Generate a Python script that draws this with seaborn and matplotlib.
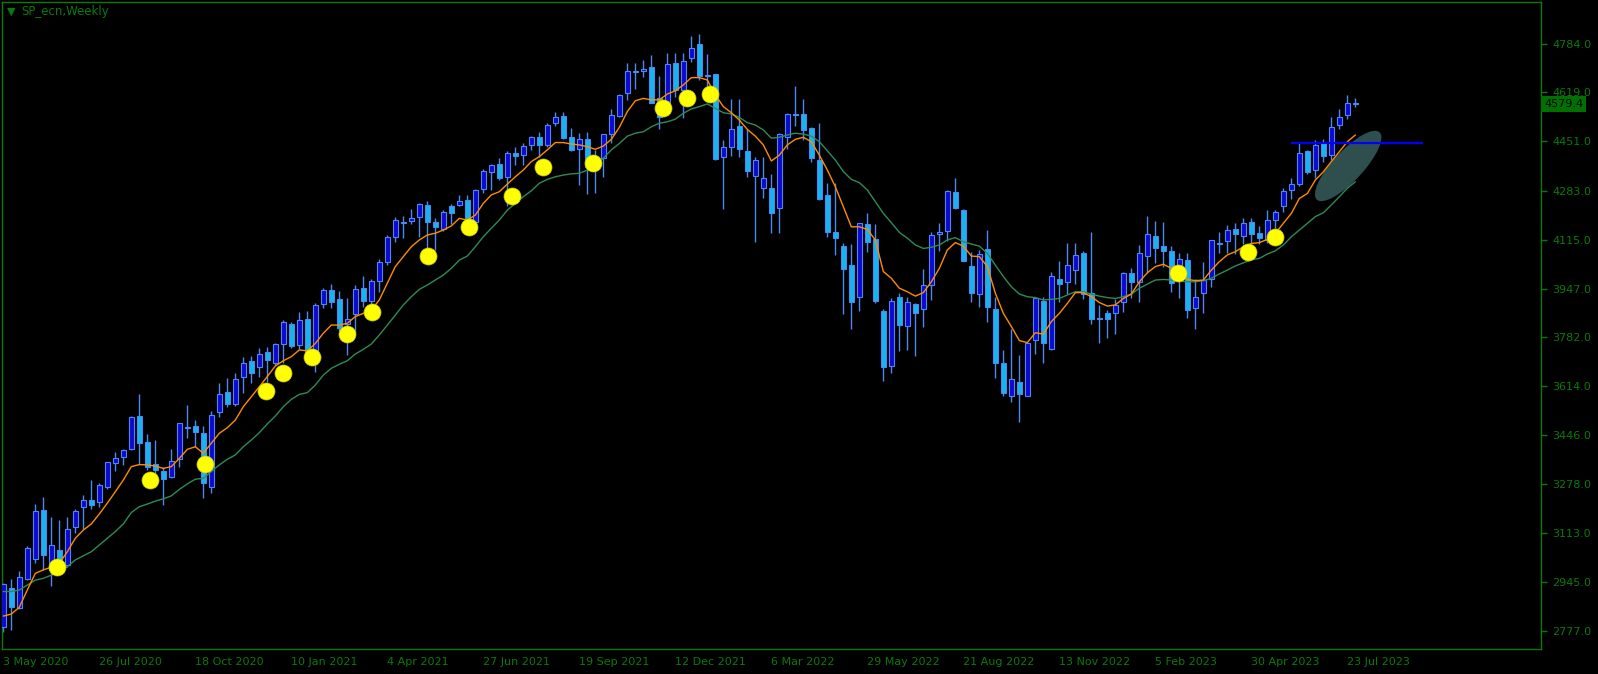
import numpy as np
import pandas as pd
import matplotlib
matplotlib.use("Agg")
import matplotlib.pyplot as plt
import matplotlib.transforms as mtransforms
from matplotlib.patches import Ellipse
import seaborn as sns

# weekly candles, 3 May 2020 .. 30 Jul 2023
opens = [2792, 2923, 2856, 2954, 3024, 3190, 2986, 3053, 3002, 3131,
         3200, 3224, 3217, 3270, 3350, 3371, 3398, 3511, 3422, 3347,
         3323, 3305, 3364, 3471, 3479, 3453, 3268, 3527, 3593, 3553,
         3647, 3699, 3681, 3730, 3692, 3760, 3827, 3755, 3844, 3732,
         3894, 3943, 3912, 3825, 3860, 3949, 3905, 3974, 4040, 4124,
         4174, 4178, 4191, 4233, 4174, 4150, 4229, 4232, 4249, 4176,
         4287, 4347, 4374, 4328, 4410, 4403, 4437, 4465, 4437, 4513,
         4537, 4465, 4424, 4458, 4360, 4393, 4475, 4539, 4615, 4690,
         4691, 4704, 4598, 4587, 4718, 4627, 4735, 4783, 4678, 4680,
         4396, 4433, 4504, 4418, 4334, 4291, 4292, 4222, 4465, 4545,
         4543, 4496, 4387, 4268, 4140, 4092, 4027, 3918, 4169, 4116,
         3871, 3684, 3920, 3821, 3895, 3877, 3959, 4133, 4146, 4277,
         4215, 4024, 3928, 4082, 3877, 3692, 3582, 3628, 3582, 3771,
         3906, 3742, 3980, 3969, 4013, 4069, 3934, 3847, 3863, 3865,
         3901, 4000, 3971, 4060, 4127, 4094, 4076, 3977, 4046, 3883,
         3934, 3979, 4101, 4112, 4150, 4129, 4174, 4137, 4114, 4182,
         4230, 4285, 4305, 4418, 4353, 4450, 4405, 4507, 4541, 4583]
highs = [2940, 2954, 2981, 3068, 3211, 3235, 3167, 3157, 3167, 3193,
         3241, 3292, 3282, 3355, 3388, 3398, 3512, 3587, 3451, 3430,
         3337, 3398, 3489, 3549, 3498, 3478, 3528, 3625, 3641, 3658,
         3715, 3717, 3743, 3749, 3763, 3840, 3833, 3868, 3871, 3897,
         3949, 3963, 3939, 3916, 3960, 3991, 3980, 4048, 4131, 4191,
         4196, 4220, 4239, 4247, 4188, 4216, 4237, 4267, 4268, 4288,
         4357, 4374, 4394, 4418, 4431, 4444, 4471, 4482, 4513, 4552,
         4552, 4496, 4481, 4482, 4420, 4478, 4561, 4613, 4718, 4718,
         4729, 4746, 4675, 4752, 4752, 4752, 4811, 4818, 4750, 4680,
         4456, 4596, 4596, 4492, 4398, 4399, 4340, 4479, 4547, 4640,
         4596, 4501, 4513, 4308, 4308, 4103, 4101, 4173, 4207, 4169,
         3877, 3914, 3931, 3920, 3900, 4015, 4142, 4171, 4285, 4325,
         4219, 4072, 4080, 4147, 3920, 3738, 3810, 3721, 3766, 3920,
         3918, 4006, 4043, 4105, 4105, 4075, 4141, 3892, 3875, 3911,
         4004, 4017, 4097, 4196, 4179, 4174, 4093, 4068, 4068, 3979,
         4040, 4113, 4140, 4165, 4173, 4188, 4188, 4162, 4216, 4216,
         4291, 4325, 4449, 4422, 4456, 4458, 4536, 4563, 4610, 4598]
lows = [2775, 2780, 2853, 2951, 3008, 2986, 2932, 2986, 2997, 3113,
        3127, 3195, 3200, 3261, 3325, 3346, 3396, 3348, 3327, 3270,
        3209, 3299, 3339, 3437, 3407, 3233, 3250, 3510, 3544, 3547,
        3592, 3626, 3644, 3629, 3686, 3692, 3743, 3740, 3726, 3664,
        3883, 3883, 3804, 3721, 3797, 3886, 3888, 3937, 4028, 4108,
        4120, 4169, 4125, 4085, 4080, 4146, 4169, 4230, 4160, 4171,
        4273, 4285, 4319, 4230, 4370, 4370, 4422, 4399, 4433, 4504,
        4460, 4417, 4302, 4270, 4275, 4328, 4444, 4533, 4593, 4629,
        4672, 4581, 4492, 4581, 4604, 4530, 4724, 4661, 4615, 4387,
        4220, 4401, 4399, 4328, 4106, 4256, 4139, 4137, 4424, 4504,
        4456, 4382, 4251, 4123, 4063, 3860, 3808, 3872, 4074, 3897,
        3633, 3658, 3736, 3738, 3717, 3818, 3909, 4077, 4112, 4219,
        4042, 3903, 3884, 3835, 3643, 3580, 3559, 3490, 3582, 3725,
        3694, 3737, 3903, 3929, 3963, 3911, 3826, 3763, 3780, 3791,
        3869, 3914, 3903, 4000, 4034, 4023, 3937, 3914, 3846, 3808,
        3865, 3954, 4068, 4071, 4066, 4100, 4100, 4100, 4102, 4154,
        4211, 4253, 4299, 4338, 4325, 4382, 4388, 4495, 4526, 4570]
closes = [2938, 2858, 2960, 3060, 3186, 3038, 3070, 2989, 3125, 3186,
          3224, 3209, 3275, 3354, 3367, 3395, 3508, 3419, 3337, 3327,
          3296, 3357, 3487, 3473, 3459, 3284, 3514, 3587, 3554, 3637,
          3692, 3660, 3723, 3702, 3758, 3832, 3751, 3840, 3732, 3892,
          3943, 3901, 3812, 3844, 3946, 3906, 3974, 4039, 4123, 4181,
          4171, 4188, 4236, 4176, 4159, 4208, 4207, 4246, 4176, 4284,
          4349, 4370, 4327, 4410, 4402, 4436, 4467, 4440, 4508, 4535,
          4464, 4420, 4458, 4365, 4391, 4476, 4540, 4610, 4693, 4688,
          4700, 4583, 4533, 4714, 4627, 4727, 4769, 4676, 4673, 4391,
          4431, 4492, 4426, 4351, 4387, 4325, 4205, 4475, 4543, 4541,
          4490, 4393, 4254, 4142, 4120, 4016, 3903, 4171, 4108, 3906,
          3679, 3906, 3823, 3901, 3865, 3959, 4130, 4141, 4280, 4224,
          4043, 3932, 4065, 3884, 3694, 3592, 3637, 3588, 3761, 3916,
          3763, 3991, 3963, 4027, 4061, 3928, 3843, 3843, 3843, 3892,
          4000, 3971, 4068, 4134, 4088, 4077, 3968, 4048, 3875, 3918,
          3977, 4113, 4103, 4148, 4133, 4171, 4133, 4120, 4182, 4211,
          4283, 4304, 4413, 4348, 4439, 4402, 4501, 4535, 4581, 4579.4]

ma_fast = [2828, 2835, 2858, 2917, 2974, 2986, 2995, 3008, 3048, 3094,
           3122, 3143, 3177, 3214, 3253, 3293, 3339, 3346, 3345, 3341,
           3333, 3339, 3367, 3398, 3407, 3385, 3419, 3453, 3472, 3498,
           3544, 3578, 3612, 3647, 3683, 3701, 3715, 3738, 3735, 3760,
           3795, 3823, 3823, 3829, 3852, 3863, 3874, 3909, 3966, 4023,
           4057, 4091, 4114, 4131, 4137, 4148, 4162, 4188, 4182, 4199,
           4239, 4268, 4279, 4305, 4330, 4353, 4382, 4399, 4422, 4447,
           4447, 4442, 4439, 4433, 4424, 4435, 4458, 4499, 4553, 4590,
           4598, 4593, 4593, 4613, 4624, 4644, 4669, 4669, 4661, 4610,
           4570, 4549, 4524, 4492, 4469, 4439, 4384, 4404, 4439, 4458,
           4465, 4450, 4404, 4353, 4296, 4228, 4159, 4159, 4150, 4114,
           4006, 3983, 3949, 3937, 3922, 3934, 3971, 4017, 4080, 4105,
           4093, 4059, 4057, 4023, 3932, 3863, 3818, 3770, 3763, 3797,
           3792, 3835, 3863, 3897, 3934, 3934, 3920, 3900, 3888, 3892,
           3914, 3929, 3971, 4002, 4023, 4031, 4017, 4006, 3979, 3975,
           3977, 4011, 4040, 4063, 4074, 4091, 4102, 4105, 4116, 4137,
           4171, 4205, 4256, 4273, 4319, 4347, 4382, 4416, 4450, 4473]
ma_slow = [2912, 2912, 2917, 2934, 2951, 2957, 2968, 2980, 2997, 3020,
           3034, 3048, 3071, 3094, 3117, 3143, 3182, 3202, 3211, 3221,
           3229, 3239, 3261, 3280, 3296, 3299, 3322, 3345, 3364, 3379,
           3407, 3430, 3455, 3485, 3512, 3544, 3569, 3586, 3592, 3618,
           3652, 3675, 3689, 3701, 3724, 3740, 3758, 3789, 3823, 3857,
           3892, 3920, 3945, 3960, 3977, 3994, 4017, 4045, 4059, 4091,
           4125, 4154, 4182, 4216, 4239, 4262, 4282, 4308, 4321, 4330,
           4336, 4340, 4342, 4353, 4370, 4393, 4422, 4444, 4469, 4479,
           4484, 4501, 4513, 4518, 4527, 4547, 4562, 4570, 4579, 4564,
           4549, 4545, 4533, 4515, 4507, 4490, 4462, 4465, 4473, 4479,
           4476, 4469, 4450, 4419, 4387, 4348, 4321, 4310, 4285, 4245,
           4205, 4173, 4140, 4120, 4097, 4085, 4089, 4097, 4114, 4122,
           4108, 4100, 4093, 4068, 4028, 3989, 3954, 3929, 3920, 3917,
           3909, 3911, 3914, 3926, 3937, 3937, 3929, 3922, 3917, 3914,
           3920, 3929, 3949, 3963, 3977, 3979, 3977, 3974, 3971, 3971,
           3975, 3983, 3998, 4011, 4025, 4036, 4046, 4051, 4066, 4077,
           4097, 4125, 4148, 4171, 4194, 4207, 4234, 4262, 4291, 4313]

# yellow signal dots (bar index, price)
dot_bar = [6.75, 18.4, 25.25, 32.8, 34.9, 38.6, 42.9, 46.1, 53.1, 58.25,
           63.55, 67.4, 73.75, 82.5, 85.4, 88.3, 146.8, 155.6, 159.0]
dot_price = [2997, 3293, 3348, 3599, 3660, 3715, 3794, 3866, 4059, 4159,
             4264, 4362, 4378, 4564, 4598, 4613, 4002, 4074, 4125]

date_labels = ["3 May 2020", "26 Jul 2020", "18 Oct 2020", "10 Jan 2021",
               "4 Apr 2021", "27 Jun 2021", "19 Sep 2021", "12 Dec 2021",
               "6 Mar 2022", "29 May 2022", "21 Aug 2022", "13 Nov 2022",
               "5 Feb 2023", "30 Apr 2023", "23 Jul 2023"]
price_ticks = [4784.0, 4619.0, 4451.0, 4283.0, 4115.0, 3947.0, 3782.0,
               3614.0, 3446.0, 3278.0, 3113.0, 2945.0, 2777.0]
level_price = 4445
last_price = 4579.4

FG = "#0b7a0b"
BULL = "#0a0ad2"
BEAR = "#18b4f0"
EDGE = "#4f86f0"

df = pd.DataFrame({"open": opens, "high": highs, "low": lows, "close": closes,
                   "fast": ma_fast, "slow": ma_slow})
df["bar"] = np.arange(len(df))
dots = pd.DataFrame({"bar": dot_bar, "price": dot_price})

sns.set_theme(style="dark")
plt.rcParams["font.family"] = ["DejaVu Sans"]

fig = plt.figure(figsize=(15.98, 6.74), dpi=100, facecolor="black")
ax = fig.add_axes([2 / 1598, 25 / 674, 1539 / 1598, 647 / 674])
ax.set_facecolor("black")
ax.grid(False)

up = df["close"] >= df["open"]
ax.vlines(df["bar"], df["low"], df["high"], color=EDGE, lw=1, zorder=2)
body_lo = np.minimum(df["open"], df["close"])
body_h = np.maximum((df["close"] - df["open"]).abs(), 1.5)
ax.bar(df["bar"], body_h, bottom=body_lo, width=0.6,
       color=np.where(up, BULL, BEAR), edgecolor=EDGE, linewidth=0.8, zorder=3)

sns.lineplot(data=df, x="bar", y="slow", color="#2e8b57", lw=1, ax=ax, zorder=4)
sns.lineplot(data=df, x="bar", y="fast", color="#ff8c00", lw=1, ax=ax, zorder=4)
sns.scatterplot(data=dots, x="bar", y="price", s=150, color="#ffff00",
                edgecolor="#c8c800", linewidth=0.5, ax=ax, zorder=6)

ax.hlines(level_price, 161, 177.5, color="#0000ff", lw=1.6, zorder=5)

ax.set_xlim(-0.16, 192.2)
ax.set_ylim(2715.5, 4927.6)

# shaded ellipse drawn in screen pixels around the last bars
cx, cy = ax.transData.transform((168.1, 4367))
ax.add_patch(Ellipse((cx, cy), 92, 30, angle=47, facecolor="#2f4f4f",
                     edgecolor="none", transform=mtransforms.IdentityTransform(),
                     zorder=1))

ax.yaxis.tick_right()
ax.set_yticks(price_ticks)
ax.set_yticklabels([f"{p:.1f}" for p in price_ticks])
ax.set_xticks(np.arange(0, 12 * len(date_labels), 12))
ax.set_xticklabels(date_labels, ha="left")
ax.tick_params(colors=FG, labelcolor=FG, labelsize=8, length=4, width=1,
               direction="out", pad=2)
ax.tick_params(axis="y", pad=4)
ax.set_xlabel("")
ax.set_ylabel("")
for sp in ax.spines.values():
    sp.set_color(FG)
    sp.set_linewidth(1)
    sp.set_visible(True)

ax.text(1.002, last_price, f"{last_price:.1f}",
        transform=mtransforms.blended_transform_factory(ax.transAxes, ax.transData),
        ha="left", va="center", fontsize=8, color="black",
        bbox=dict(boxstyle="square,pad=0.25", facecolor="#007000", edgecolor="none"),
        zorder=10, clip_on=False)

fig.text(7 / 1598, 1 - 12 / 674, "\u25bc", color=FG, fontsize=8, va="center")
fig.text(21 / 1598, 1 - 12 / 674, "SP_ecn,Weekly", color=FG, fontsize=8.5, va="center")

fig.savefig("out.png", dpi=100, facecolor="black")
